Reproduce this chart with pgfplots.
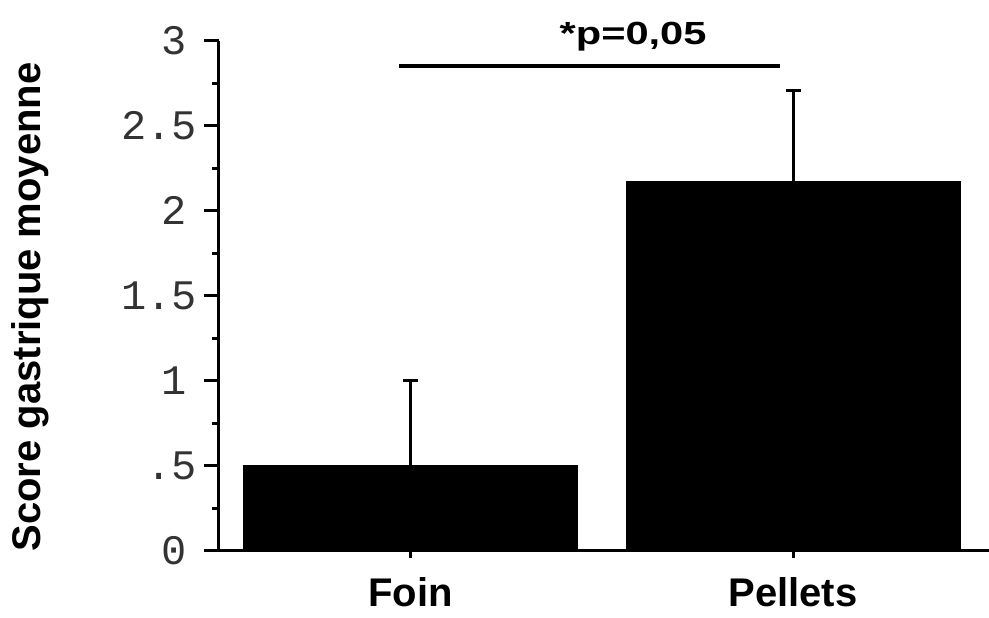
\documentclass[border=0pt]{standalone}
\usepackage{fontspec}
\setmainfont{Liberation Sans}
\newfontfamily\monofont{Liberation Mono}
\usepackage{pgfplots}
\pgfplotsset{compat=1.18}
\begin{document}
\begin{tikzpicture}
\begin{axis}[
  scale only axis, width=385pt, height=255pt,
  xmin=-0.5, xmax=1.512, ymin=0, ymax=3,
  axis x line*=bottom, axis y line*=left,
  axis line style={line width=1.5pt, black},
  tick style={line width=1.5pt, black},
  tick align=outside,
  major tick length=7.5pt, minor tick length=3.5pt,
  ytick={0,0.5,1,1.5,2,2.5,3},
  yticklabels={{0\kern5pt},{.5},{1\kern5pt},{1.5},{2\kern5pt},{2.5},{3\kern5pt}},
  minor y tick num=1,
  yticklabel style={font=\monofont\fontsize{21}{21}\selectfont, text=black!80},
  xtick={0,1}, xticklabels={Foin,Pellets},
  minor xtick={0,1},
  major x tick style={draw=none},
  xticklabel style={font=\bfseries\fontsize{20}{20}\selectfont, yshift=-2.5pt},
  ylabel={Score gastrique moyenne},
  ylabel style={font=\bfseries\fontsize{20}{20}\selectfont, at={(rel axis cs:-0.2455,0.478)}, anchor=center},
  clip=false,
]
\addplot[ybar, bar width=0.872, fill=black, draw=black,
  error bars/.cd, y dir=plus, y explicit,
  error bar style={line width=1.5pt, black},
  error mark options={rotate=90, mark size=3.75pt, line width=1.5pt, black}]
  coordinates {(0,0.5) +- (0,0.5) (1,2.17) +- (0,0.54)};
\addplot[sharp plot, line width=1.6pt, black, mark=none]
  coordinates {(-0.0287,2.851) (0.966,2.851)};
\node[anchor=base, font=\bfseries\fontsize{16}{16}\selectfont, xscale=1.3] at (axis cs:0.582,2.975) {*p=0,05};
\coordinate (bl) at (rel axis cs:-0.2844,-0.130);
\coordinate (tr) at (rel axis cs:1,1.0798);
\end{axis}
\pgfresetboundingbox
\path[use as bounding box] (bl) rectangle (tr);
\end{tikzpicture}
\end{document}
